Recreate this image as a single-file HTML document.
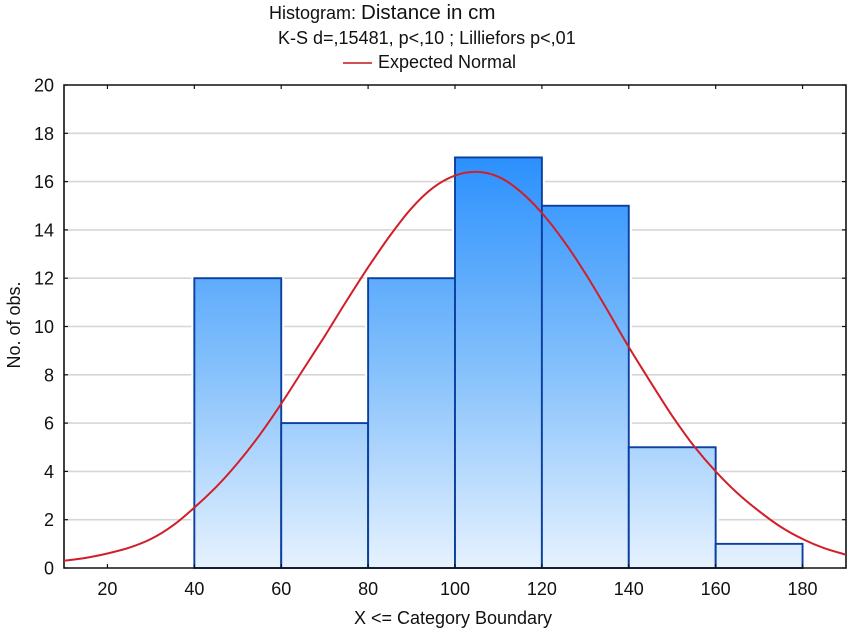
<!DOCTYPE html>
<html>
<head>
<meta charset="utf-8">
<title>Histogram: Distance in cm</title>
<style>
html,body{margin:0;padding:0;background:#fff;}
svg{display:block;font-family:"Liberation Sans",sans-serif;fill:#111;}
</style>
</head>
<body>
<svg id="chart" xmlns="http://www.w3.org/2000/svg" width="851" height="633" viewBox="0 0 851 633">
  <defs>
    <linearGradient id="barFill" gradientUnits="userSpaceOnUse" x1="0" y1="157" x2="0" y2="568">
      <stop offset="0" stop-color="#2b90fd"/>
      <stop offset="0.5" stop-color="#82bffc"/>
      <stop offset="1" stop-color="#e6f2fe"/>
    </linearGradient>
  </defs>
  <rect width="851" height="633" fill="#fff"/>
  <text x="269" y="19" font-size="18">Histogram: <tspan font-size="20.5">Distance in cm</tspan></text>
  <text x="278" y="44" font-size="18">K-S d=,15481, p&lt;,10 ; Lilliefors p&lt;,01</text>
  <line x1="343" x2="372" y1="63" y2="63" stroke="#c4161c" stroke-width="1.5"/>
  <text x="378" y="68" font-size="18">Expected Normal</text>
  <g id="grid"></g>
  <g id="bars"></g>
  <g id="axes"></g>
  <path id="curve" fill="none" stroke="#d11f2a" stroke-width="2" stroke-linejoin="round"/>
  <g id="labels"></g>
  <text x="453" y="624" font-size="18" text-anchor="middle">X &lt;= Category Boundary</text>
  <text transform="translate(20,325) rotate(-90)" font-size="18" text-anchor="middle">No. of obs.</text>
</svg>
<script>
const binEdges = [40, 60, 80, 100, 120, 140, 160, 180];
const binCounts = [12, 6, 12, 17, 15, 5, 1];
const xTicks = [20, 40, 60, 80, 100, 120, 140, 160, 180];
const yTicks = [0, 2, 4, 6, 8, 10, 12, 14, 16, 18, 20];
const curveX = [10, 15, 20, 25, 30, 35, 40, 45, 50, 55, 60, 65, 70, 75, 80, 85, 90, 95, 100, 105, 110, 115, 120, 125, 130, 135, 140, 145, 150, 155, 160, 165, 170, 175, 180, 185, 190];
const curveY = [0.3, 0.42, 0.6, 0.84, 1.2, 1.75, 2.5, 3.35, 4.35, 5.5, 6.8, 8.2, 9.6, 11.05, 12.45, 13.75, 14.9, 15.75, 16.25, 16.4, 16.2, 15.6, 14.7, 13.55, 12.2, 10.7, 9.15, 7.7, 6.3, 5.05, 4, 3.1, 2.35, 1.7, 1.2, 0.82, 0.55];

const NS = 'http://www.w3.org/2000/svg';
const xMin = 10, xMax = 190, yMax = 20;
const left = 64, right = 846, top_ = 85, bottom = 568;
function sx(v){ return left + (v - xMin) / (xMax - xMin) * (right - left); }
function sy(v){ return bottom - v / yMax * (bottom - top_); }
function mk(tag, parent, attrs){
  const el = document.createElementNS(NS, tag);
  for (const k in attrs) el.setAttribute(k, attrs[k]);
  parent.appendChild(el);
  return el;
}
const grid = document.getElementById('grid');
const bars = document.getElementById('bars');
const axes = document.getElementById('axes');
const labels = document.getElementById('labels');

yTicks.forEach(function(t){
  if (t === 0 || t === yMax) return;
  const g = mk('line', grid, {x1: left, x2: right, y1: sy(t), y2: sy(t), stroke: '#d6d6d6', 'stroke-width': 1.6});
  
  
});

binCounts.forEach(function(c, i){
  const x0 = sx(binEdges[i]), x1 = sx(binEdges[i + 1]);
  const halo = mk('rect', bars, {x: x0 - 3, y: sy(c) - 2, width: x1 - x0 + 6, height: bottom - sy(c) + 2, fill: '#fff'});
  
  
});
binCounts.forEach(function(c, i){
  const x0 = sx(binEdges[i]), x1 = sx(binEdges[i + 1]);
  const r = mk('rect', bars, {x: x0, y: sy(c), width: x1 - x0, height: bottom - sy(c), fill: 'url(#barFill)', stroke: '#0b3fa0', 'stroke-width': 1.9});
  
  
});

const frame = mk('path', axes, {d: 'M' + left + ' ' + bottom + 'V' + top_ + 'H' + right + 'V' + bottom + 'Z', fill: 'none', stroke: '#111', 'stroke-width': 1.6});



xTicks.forEach(function(t){
  const x = sx(t);
  const a = mk('line', axes, {x1: x, x2: x, y1: bottom, y2: bottom - 4, stroke: '#111', 'stroke-width': 1.2});
  
  
  const b = mk('line', axes, {x1: x, x2: x, y1: top_, y2: top_ + 4, stroke: '#111', 'stroke-width': 1.2});
  
  
  const l = mk('text', labels, {x: x, y: 595, 'font-size': 18, 'text-anchor': 'middle'});
  
  
  l.textContent = t;
});

yTicks.forEach(function(t){
  const y = sy(t);
  const a = mk('line', axes, {x1: left, x2: left + 4, y1: y, y2: y, stroke: '#111', 'stroke-width': 1.2});
  
  
  const b = mk('line', axes, {x1: right, x2: right - 4, y1: y, y2: y, stroke: '#111', 'stroke-width': 1.2});
  
  
  const l = mk('text', labels, {x: 54, y: y + 6.5, 'font-size': 18, 'text-anchor': 'end'});
  
  
  l.textContent = t;
});

const pts = curveX.map(function(v, i){ return [sx(v), sy(curveY[i])]; });
let d = 'M' + pts[0][0].toFixed(1) + ' ' + pts[0][1].toFixed(1);
for (let i = 0; i < pts.length - 1; i++) {
  const p0 = pts[Math.max(i - 1, 0)], p1 = pts[i], p2 = pts[i + 1], p3 = pts[Math.min(i + 2, pts.length - 1)];
  d += 'C' + (p1[0] + (p2[0] - p0[0]) / 6).toFixed(1) + ' ' + (p1[1] + (p2[1] - p0[1]) / 6).toFixed(1) + ' '
     + (p2[0] - (p3[0] - p1[0]) / 6).toFixed(1) + ' ' + (p2[1] - (p3[1] - p1[1]) / 6).toFixed(1) + ' '
     + p2[0].toFixed(1) + ' ' + p2[1].toFixed(1);
}
document.getElementById('curve').setAttribute('d', d);
</script>
</body>
</html>
